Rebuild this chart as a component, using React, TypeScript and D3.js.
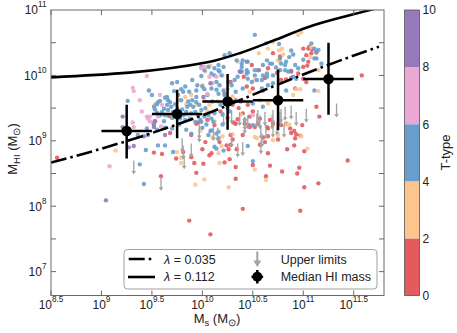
import React from "react";
import * as d3 from "d3";

const X_DOMAIN = [8.5, 11.8];
const Y_DOMAIN = [6.635, 11];
const xTickExps = [8.5, 9, 9.5, 10, 10.5, 11, 11.5];
const xTickLabels = ["8.5", "9", "9.5", "10", "10.5", "11", "11.5"];
const yTickExps = [7, 8, 9, 10, 11];
const yTickLabels = ["7", "8", "9", "10", "11"];
const yHalfTicks = [7, 7.5, 8, 8.5, 9, 9.5, 10, 10.5];
const cbTicks = [0, 2, 4, 6, 8, 10];
const tClasses = [0, 2, 4, 6, 8];
const tColors = ["#e35b5e", "#fdc48e", "#689ecb", "#eba8d4", "#9679b8"];

// log10 stellar mass, log10 HI mass
const pointsT0 = [
  [8.56,8.74],[9.52,8.82],[9.60,8.80],[9.59,8.46],[9.68,9.12],[9.67,9.38],[9.74,8.73],[9.81,8.83],[9.89,8.75],[9.92,8.66],[9.94,8.51],[9.94,9.26],[9.96,9.28],[9.89,9.09],[10.0,8.87],[10.01,8.65],[10.03,8.98],[10.07,8.78],[10.09,8.81],[9.87,7.78],[10.08,7.57],
  [11.44,8.70],[11.15,8.35],[11.01,8.29],[10.97,7.93],[10.40,7.96],[10.63,8.46],[10.33,8.42],[10.33,8.60],[10.22,8.67],[10.27,8.72],[10.50,8.63],[10.67,8.62],[10.79,8.53],[10.96,8.59],[10.94,8.50],[10.65,8.81],[11.01,8.84],[10.84,8.87],[10.91,8.93],[10.92,9.04],[10.93,9.10],[10.88,9.12],[10.99,9.24],[10.57,8.94],[10.62,8.98],[10.60,9.05],[10.75,9.02],[10.65,9.07],[10.40,9.09],[10.28,9.09],[10.28,8.94],[10.17,8.98],[10.26,8.87],[10.34,8.87],[10.24,8.93],[10.30,9.02],
  [10.33,9.26],[10.47,9.21],[10.55,9.26],[10.65,9.19],[10.78,9.24],[10.91,9.15],[10.97,9.08],[10.46,9.24],
  [10.40,9.42],[10.47,9.37],[10.57,9.34],[10.67,9.32],[10.70,9.26],[10.83,9.26],[10.87,9.19],[10.64,9.21],[10.52,9.21],[10.42,9.26],[11.13,9.52],[11.16,9.37],
  [10.44,9.83],[10.50,9.80],[10.60,9.77],[10.92,9.80],[10.65,10.11],[10.74,10.04],[10.78,9.93],[10.83,9.94],[11.0,9.95],[11.03,9.90],[10.88,10.06],[10.95,10.03],[11.0,10.13],[11.05,10.21],[11.03,10.31],[11.08,10.34],[11.06,10.44],[11.09,10.40],[10.70,10.34],[10.77,10.29],[10.44,10.21],[10.49,10.16],[11.0,10.41],[11.05,10.41],[11.13,10.35],[11.58,10.0],[11.04,10.15],
  [10.05,9.32],[10.12,9.24],[10.18,9.45],[10.25,9.35],[10.31,9.28],[10.36,9.50],[10.33,9.62],[10.22,9.72],[10.28,9.90],[10.41,9.98],[10.38,10.06],[10.56,10.08],[10.62,9.96],[10.30,9.55],[10.45,9.55],[10.35,9.33],[10.50,9.45]
];
const pointsT2 = [
  [9.14,8.85],[9.53,9.56],[9.75,8.83],[9.79,8.74],[9.79,8.66],[10.02,8.41],[9.93,8.33],[10.16,8.81],[10.63,8.40],[10.26,8.29],[10.17,8.66],[10.52,8.56],[11.04,8.88],[10.98,9.07],[10.70,9.01],[10.52,9.06],[10.54,9.04],[10.20,9.07],[10.30,9.10],[10.19,8.92],[10.75,9.09],[10.83,9.25],[10.86,9.25],
  [10.56,10.34],[10.35,10.21],[10.65,10.41],[10.79,10.41],[10.76,10.38],[10.80,10.32],[10.75,10.23],[10.77,10.21],[11.08,10.43],[11.07,10.28],[11.15,10.08],[10.03,10.06],[10.0,9.85],[9.89,9.70],[10.70,10.51],[10.95,10.62],[10.98,10.66],[10.93,9.79],[10.97,9.79],[11.15,9.76],[10.40,9.62],[10.57,9.62],[10.65,9.57],[10.52,9.93],[10.90,9.70],
  [9.95,9.55],[10.05,9.45],[10.15,9.60],[10.25,9.80],[10.12,9.30],[9.85,9.40],[10.38,9.40],[10.47,9.75],[10.20,10.0],[9.98,9.15],[10.10,9.05],[9.76,9.62],[9.83,9.67],[9.84,9.56],[10.02,9.62],[10.07,9.55],[10.08,10.15],[10.30,9.68]
];
const pointsT4 = [
  [9.26,9.61],[9.47,9.77],[9.50,9.70],[9.52,9.52],[9.55,9.56],[9.53,9.30],[9.36,9.09],[9.46,9.09],[9.56,8.93],[9.44,8.86],[9.38,8.64],[9.42,8.34],[9.63,8.93],[9.71,8.83],[10.16,9.04],[10.08,9.15],[10.50,8.69],[10.45,8.92],[10.21,8.85],[10.14,8.88],[10.12,8.91],[10.14,9.11],[10.16,9.14],[10.50,9.24],[10.42,9.32],
  [10.52,10.62],[10.22,10.31],[10.27,10.34],[10.34,10.23],[10.39,10.18],[10.64,10.23],[10.69,10.18],[10.77,10.26],[10.78,10.18],[10.83,10.21],[9.99,10.13],[10.02,10.08],[10.09,10.03],[10.12,10.11],[10.17,10.06],[10.21,10.13],[10.06,10.13],[10.16,10.16],[9.99,9.99],[10.12,10.0],[10.14,9.90],[10.09,9.80],[10.14,9.78],[10.0,9.83],[10.02,9.79],[9.70,9.88],[9.75,9.90],[9.79,9.79],[9.81,9.75],[9.83,9.83],[9.90,9.93],[9.94,9.77],[9.87,9.75],[9.94,9.67],[9.65,9.67],[9.56,9.59],[9.58,9.61],
  [10.63,10.49],[10.76,10.48],[10.88,10.38],[10.90,10.32],[10.86,10.28],[10.93,9.95],[11.11,10.26],[11.11,10.41],[10.73,10.12],[10.60,10.0],[10.45,10.05],
  [10.40,10.23],[10.45,10.21],[10.39,10.13],[10.44,10.08],[10.52,10.08],[10.60,10.16],[10.67,10.18],[10.77,10.08],[10.82,10.08],[10.92,10.16],[10.95,10.11],[11.0,10.24],[11.08,10.49],[11.13,10.36],[11.15,10.39],[11.13,10.26],[11.18,10.18],[10.54,9.93],[10.64,9.98],[10.70,9.88],[10.59,9.80],[10.83,9.77],[10.90,9.98],[10.50,9.57],[10.60,9.52],[11.11,9.77],
  [9.45,9.19],[9.55,9.17],[9.63,9.20],[9.70,9.19],[9.99,9.29],[10.09,9.16],[9.84,9.17],[9.89,9.11],[10.04,9.25],[10.06,9.09],[10.11,9.29],
  [9.63,9.66],[9.66,9.62],[9.68,9.59],[9.65,9.55],[9.62,9.49],[9.60,9.44],[9.58,9.39],[9.63,9.39],[9.66,9.47],[9.69,9.52],[9.71,9.44],[9.73,9.56],[9.79,9.62],[9.86,9.60],[9.88,9.55],[9.91,9.52],[9.94,9.59],[9.93,9.44],[9.96,9.39],[9.99,9.47],[9.89,9.42],[9.84,9.44],[9.81,9.39],[9.78,9.34],[9.83,9.32],[9.88,9.34],[9.93,9.29],[9.98,9.32],[10.02,9.37],[10.06,9.39],[10.09,9.34],[10.12,9.42],[9.53,9.48],[9.55,9.43],
  [10.16,10.08],[10.19,10.0],[10.17,9.85],[10.21,9.77],[10.16,9.72],[10.22,9.70],[10.26,9.90],[10.29,9.85],[10.32,9.93],[10.35,9.98],[10.39,10.06],[10.44,10.03],[10.45,9.95],[10.49,9.90],[10.52,10.0],[10.55,10.08],[10.59,9.93],[10.64,10.03],[10.65,9.85],[10.70,10.0],[10.82,10.16],[10.85,10.06],
  [9.75,9.50],[9.80,9.48],[9.85,9.52],[9.90,9.62],[9.97,9.55],[10.03,9.50],[10.10,9.60],[10.18,9.55],[10.25,9.50],[10.20,9.40],[9.76,9.70],[9.72,9.76],[9.95,9.85],[10.05,9.70],[10.28,9.62],[10.33,9.75],[10.40,9.80],[10.38,9.60],[10.27,9.45],[9.70,9.35],[9.62,9.30],[9.77,9.25],[10.0,9.20],[10.20,9.25]
];
const pointsT6 = [
  [9.45,9.99],[9.31,9.81],[9.32,9.76],[9.38,9.62],[9.45,9.37],[9.48,9.37],[9.31,9.28],[9.32,9.21],[9.08,8.61],[9.46,9.34],[9.48,9.30],[9.51,9.28],[9.56,9.37],[9.59,9.22],[9.99,10.11],[10.02,10.13],[10.05,9.72],[10.07,9.98],[10.10,9.88],[9.60,9.55],[9.40,9.45],[9.58,9.70],[10.14,9.98],[10.50,9.39]
];
const pointsT8 = [
  [9.21,9.37],[9.21,9.21],[9.32,8.92],[9.27,8.90],[9.52,9.21],[9.045,8.09],[9.53,9.30],[10.01,9.67],[10.88,10.07],[10.88,9.96],[9.52,9.25],[9.63,9.09],[10.37,10.06],[10.08,9.88],[9.42,9.07]
];
const upperLimits = [
  [9.32,8.70],[9.59,8.45],[9.80,9.04],[9.89,8.96],[9.82,8.78],[9.81,8.93],[9.97,9.24],[9.97,9.19],[10.11,9.21],[10.15,9.20],[10.29,9.11],[10.35,8.96],[10.40,8.98],[10.42,9.32],[10.59,9.11],[10.58,9.01],[10.58,9.24],[10.63,9.24],[10.70,9.26],[10.81,9.26],[10.74,9.30],
  [10.21,9.44],[10.29,9.47],[10.37,9.44],[10.42,9.37],[10.54,9.42],[10.57,9.39],[10.62,9.44],[10.70,9.47],[10.78,9.49],[10.82,9.52],[10.88,9.54],[10.45,9.39],[10.55,9.47],[10.69,9.39],[10.77,9.44],[10.93,9.44],[11.03,9.49],[11.33,9.57]
];
const lambda035 = [[8.5,8.667],[9.0,8.88],[10.0,9.39],[10.7,9.83],[11.16,10.11],[11.75,10.44]];
const lambda112 = [[8.5,9.97],[10.05,10.2],[10.37,10.34],[10.7,10.53],[11.03,10.73],[11.66,11.0],[11.8,11.06]];
const medianX = [9.25, 9.75, 10.25, 10.75, 11.25];
const medianY = [9.15, 9.41, 9.6, 9.62, 9.945];
const medianXerr = [0.25, 0.25, 0.25, 0.25, 0.25];
const medianYhi = [9.55, 9.78, 10.02, 10.09, 10.5];
const medianYlo = [8.73, 9.04, 9.17, 9.16, 9.4];

const FONT = "'Liberation Sans', Arial, Helvetica, sans-serif";

export default function App() {
  const L = 51, R = 384, T = 10, B = 295.5;
  const x = d3.scaleLog().domain([10 ** X_DOMAIN[0], 10 ** X_DOMAIN[1]]).range([L, R]);
  const y = d3.scaleLog().domain([10 ** Y_DOMAIN[0], 10 ** Y_DOMAIN[1]]).range([B, T]);
  const X = (e: number) => x(Math.pow(10, e));
  const Y = (e: number) => y(Math.pow(10, e));
  const line = d3.line<number[]>().x((d) => X(d[0])).y((d) => Y(d[1])).curve(d3.curveMonotoneX);
  const cb = d3.scaleLinear().domain([0, 10]).range([B, T]);
  const groups = [pointsT0, pointsT2, pointsT4, pointsT6, pointsT8];
  const arrowLen = 14;
  const gray = "#a3a3a3";

  return (
    <svg width={457} height={333} style={{ position: "absolute", left: 0, top: 0 }} fontFamily={FONT}>
      <defs>
        <clipPath id="plot"><rect x={L} y={T} width={R - L} height={B - T} /></clipPath>
      </defs>
      <rect x={0} y={0} width={457} height={333} fill="#fff" />
      <g clipPath="url(#plot)">
        {groups.map((g, gi) =>
          g.map((p, i) => (
            <circle key={gi + "-" + i} cx={X(p[0])} cy={Y(p[1])} r={2.2} fill={tColors[gi]} fillOpacity={0.9} />
          ))
        )}
        {upperLimits.map((p, i) => {
          const cx = X(p[0]);
          const y0 = Y(p[1]);
          const y1 = y0 + arrowLen;
          return (
            <g key={"u" + i}>
              <line x1={cx} x2={cx} y1={y0} y2={y1 - 2} stroke={gray} strokeWidth={1.3} />
              <path d={`M${cx - 2.3},${y1 - 3.5}L${cx + 2.3},${y1 - 3.5}L${cx},${y1}Z`} fill={gray} />
            </g>
          );
        })}
        <path d={line(lambda112) || ""} fill="none" stroke="#000" strokeWidth={2.6} />
        <path d={line(lambda035) || ""} fill="none" stroke="#000" strokeWidth={2.6} strokeDasharray="16,4,2.6,4" />
        {medianX.map((mx, i) => (
          <g key={"m" + i}>
            <line x1={X(mx - medianXerr[i])} x2={X(mx + medianXerr[i])} y1={Y(medianY[i])} y2={Y(medianY[i])} stroke="#000" strokeWidth={2.5} />
            <line x1={X(mx)} x2={X(mx)} y1={Y(medianYhi[i])} y2={Y(medianYlo[i])} stroke="#000" strokeWidth={2.5} />
            <circle cx={X(mx)} cy={Y(medianY[i])} r={5.3} fill="#000" />
          </g>
        ))}
      </g>
      {/* frame */}
      <rect x={L} y={T} width={R - L} height={B - T} fill="none" stroke="#6a6a6a" strokeWidth={1} />
      {xTickExps.map((e, i) => (
        <g key={"xt" + i}>
          <line x1={X(e)} x2={X(e)} y1={B} y2={B - 5} stroke="#6a6a6a" />
          <line x1={X(e)} x2={X(e)} y1={T} y2={T + 5} stroke="#6a6a6a" />
          <text x={X(e)} y={B + 13} textAnchor="middle" fontSize={12} fill="#222">
            10<tspan fontSize={8.2} dy={-7}>{xTickLabels[i]}</tspan>
          </text>
        </g>
      ))}
      {yHalfTicks.map((e, i) => (
        <g key={"yh" + i}>
          <line x1={L} x2={L + 5} y1={Y(e)} y2={Y(e)} stroke="#6a6a6a" />
          <line x1={R} x2={R - 5} y1={Y(e)} y2={Y(e)} stroke="#6a6a6a" />
        </g>
      ))}
      {yTickExps.map((e, i) => (
        <text key={"yt" + i} x={46.5} y={Y(e) + 4.3} textAnchor="end" fontSize={12} fill="#222">
          10<tspan fontSize={8.2} dy={-7}>{yTickLabels[i]}</tspan>
        </text>
      ))}
      {/* axis labels */}
      <text x={217} y={322.5} textAnchor="middle" fontSize={13} fill="#222">
        M<tspan fontSize={9.5} dy={3}>s</tspan><tspan dy={-3}> (M</tspan><tspan fontSize={9.5} dy={3}>⊙</tspan><tspan dy={-3}>)</tspan>
      </text>
      <text transform="translate(16.5,149) rotate(-90)" textAnchor="middle" fontSize={13} fill="#222">
        M<tspan fontSize={9.5} dy={3}>HI</tspan><tspan dy={-3}> (M</tspan><tspan fontSize={9.5} dy={3}>⊙</tspan><tspan dy={-3}>)</tspan>
      </text>
      {/* legend */}
      <rect x={124} y={249.5} width={253} height={39.5} rx={3.5} fill="#fff" fillOpacity={0.85} stroke="#a0a0a0" strokeWidth={1} />
      <line x1={128.7} x2={155} y1={259} y2={259} stroke="#000" strokeWidth={2.6} strokeDasharray="16,4,2.6,4" />
      <text x={164} y={263.5} fontSize={12.5} fill="#222"><tspan fontStyle="italic">λ</tspan> = 0.035</text>
      <line x1={128} x2={155} y1={277} y2={277} stroke="#000" strokeWidth={2.6} />
      <text x={164} y={281} fontSize={12.5} fill="#222"><tspan fontStyle="italic">λ</tspan> = 0.112</text>
      <line x1={257.3} x2={257.3} y1={251.5} y2={262} stroke={gray} strokeWidth={2} />
      <path d="M253.3,260.5L261.3,260.5L257.3,267Z" fill={gray} />
      <text x={280.7} y={263.5} fontSize={12.5} fill="#222">Upper limits</text>
      <line x1={251.5} x2={263.1} y1={276.8} y2={276.8} stroke="#000" strokeWidth={2.5} />
      <line x1={257.3} x2={257.3} y1={270} y2={283.5} stroke="#000" strokeWidth={2.5} />
      <circle cx={257.3} cy={276.8} r={5} fill="#000" />
      <text x={280.7} y={281} fontSize={12.5} fill="#222">Median HI mass</text>
      {/* colorbar */}
      {tClasses.map((t, i) => (
        <rect key={"cb" + i} x={404.5} y={cb(t + 2)} width={15} height={cb(t) - cb(t + 2)} fill={tColors[i]} />
      ))}
      <rect x={404.5} y={T} width={15} height={B - T} fill="none" stroke="#555" strokeWidth={0.8} />
      {cbTicks.map((t, i) => (
        <text key={"cbt" + i} x={422.5} y={cb(t) + 4.3} fontSize={12} fill="#222">{t}</text>
      ))}
      <text transform="translate(450,152.5) rotate(-90)" textAnchor="middle" fontSize={13} fill="#222">T-type</text>
    </svg>
  );
}
